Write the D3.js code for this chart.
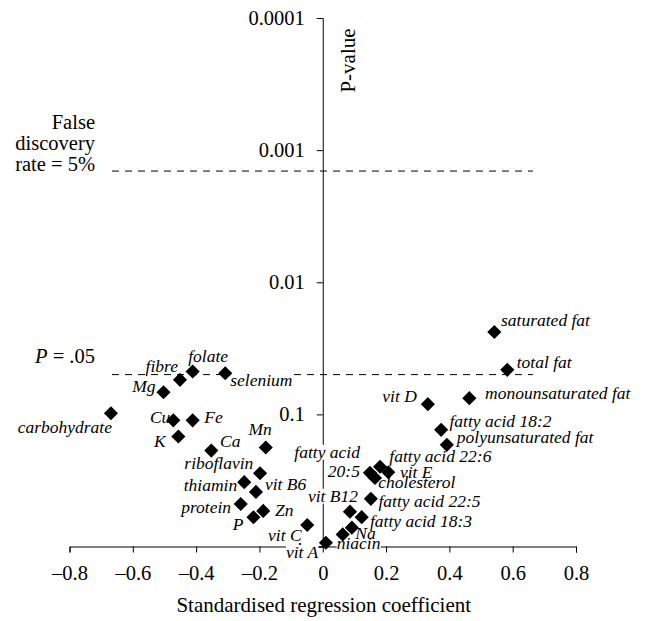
<!DOCTYPE html>
<html><head><meta charset="utf-8">
<script src="https://cdn.jsdelivr.net/npm/d3@7"></script>
</head>
<body style="margin:0;padding:0;background:#fff;"><svg id="chart" width="646" height="621" style="display:block"></svg>
<script>
// ---- data ----
const nutrients = ["carbohydrate","Mg","fibre","folate","selenium","Cu","Fe","K","Ca","Mn",
  "riboflavin","thiamin","vit B6","protein","P","Zn","vit C","vit A","niacin","Na",
  "vit B12","fatty acid 18:3","fatty acid 22:5","fatty acid 20:5","cholesterol","fatty acid 22:6",
  "vit E","polyunsaturated fat","fatty acid 18:2","vit D","monounsaturated fat","total fat","saturated fat"];
const coefficients = [-0.669,-0.503,-0.451,-0.411,-0.308,-0.472,-0.411,-0.456,-0.352,-0.180,
  -0.198,-0.248,-0.211,-0.259,-0.219,-0.188,-0.049,0.010,0.063,0.092,
  0.086,0.123,0.152,0.149,0.165,0.181,
  0.207,0.392,0.374,0.332,0.463,0.583,0.542];
const pValues = [0.098,0.068,0.0548,0.0474,0.0488,0.111,0.111,0.147,0.188,0.178,
  0.279,0.326,0.386,0.477,0.601,0.538,0.687,0.936,0.81,0.72,
  0.545,0.60,0.436,0.277,0.303,0.249,
  0.274,0.170,0.131,0.0837,0.0754,0.046,0.0238];
const xTicks = [-0.8,-0.6,-0.4,-0.2,0,0.2,0.4,0.6,0.8];
const yTicks = [1,0.1,0.01,0.001,0.0001];
const yTickLabels = ["1","0.1","0.01","0.001","0.0001"];
const thresholds = [0.05,0.00144];

// ---- label layout (dx, dy, anchor) ----
const labelLayout = [
  [1,20,"end"],[-8,0,"end"],[-2,-8,"end"],[-4.4,-9.4,"start"],[5,12.7,"start"],
  [-3,3,"end"],[11.6,3,"start"],[-12.6,10.6,"end"],[8.7,-4,"start"],[6,-12.7,"end"],
  [-6.7,-4,"end"],[-7,8.4,"end"],[9,-2,"start"],[-9.7,9.3,"end"],[-10,12.7,"end"],
  [11.7,5,"start"],[-5.6,16,"end"],[-7.7,15.3,"end"],[-6,14.5,"start"],[3.5,11,"start"],
  [8,-10,"end"],[8.3,9.4,"start"],[7.6,7.7,"start"],[-10,-15,"end"],[3.3,10,"start"],[9.3,-5,"start"],
  [11.7,5.7,"start"],[10,-1.7,"start"],[8.3,-3.3,"start"],[-11,-2.6,"end"],[15.7,0.7,"start"],[9.4,-2.3,"start"],[6.7,-6.3,"start"]
];

const FONT = '"Liberation Serif"';
const svg = d3.select("#chart");
const x = d3.scaleLinear().domain([-0.8,0.8]).range([69.5,576]);
const y = d3.scaleLog().domain([1,0.0001]).range([546.5,18]);

const fmtX = v => v === 0 ? "0" : (v < 0 ? "\u2013" + Math.abs(v).toFixed(1) : v.toFixed(1));

function txt(sel, size, italic) {
  sel.style("font-family", FONT).style("font-size", size + "px").attr("fill", "#000");
  if (italic) sel.style("font-style", "italic");
  return sel;
}

// x axis
const gx = svg.append("g").attr("transform",`translate(0,${y(1)})`)
  .call(d3.axisBottom(x).tickValues(xTicks).tickFormat(fmtX).tickSizeOuter(0).tickSize(6).tickPadding(13));
gx.attr("font-family",null).attr("font-size",null);
gx.select(".domain").attr("stroke","#000");
gx.selectAll(".tick line").attr("stroke","#000");
txt(gx.selectAll(".tick text"), 20.5);

// y axis
const gy = svg.append("g").attr("transform",`translate(${x(0)},0)`)
  .call(d3.axisLeft(y).tickValues(yTicks).tickFormat((d,i)=>yTickLabels[i]).tickSizeOuter(0).tickSize(6).tickPadding(12));
gy.attr("font-family",null).attr("font-size",null);
gy.select(".domain").attr("stroke","#000");
gy.selectAll(".tick line").attr("stroke","#000");
txt(gy.selectAll(".tick text"), 20.5);

// threshold lines
svg.selectAll("line.thr").data(thresholds).enter().append("line")
  .attr("x1",112).attr("x2",533)
  .attr("y1",d=>y(d)).attr("y2",d=>y(d))
  .attr("stroke","#000").attr("stroke-width",1).attr("stroke-dasharray","7,6");

// annotations
["False","discovery","rate = 5%"].forEach((t,i)=>{
  txt(svg.append("text").attr("x",95).attr("y",128.5+i*21.3).attr("text-anchor","end"),20.5).text(t);
});
const pt = txt(svg.append("text").attr("x",95).attr("y",363).attr("text-anchor","end"),20.5);
pt.append("tspan").style("font-style","italic").text("P");
pt.append("tspan").text(" = .05");

txt(svg.append("text").attr("transform","translate(355,60.5) rotate(-90)").attr("text-anchor","middle"),21).text("P-value");
txt(svg.append("text").attr("x",x(0)+1).attr("y",612).attr("text-anchor","middle"),21).text("Standardised regression coefficient");

// data
const data = nutrients.map((n,i)=>({name:n,c:coefficients[i],p:pValues[i],lay:labelLayout[i]}));

const bgLayer = svg.append("g");
const ptLayer = svg.append("g");
const txtLayer = svg.append("g");

data.forEach(d=>{
  const px = x(d.c), py = y(d.p);
  const [dx,dy,anchor] = d.lay;
  let lines = [d.name];
  if (d.name === "fatty acid 20:5") lines = ["fatty acid","20:5"];
  lines.forEach((ln,k)=>{
    const ty = lines.length === 2 ? (k===0 ? py+dy : py+3.7) : py+dy;
    const t = txt(txtLayer.append("text").attr("x",px+dx).attr("y",ty).attr("text-anchor",anchor),17.5,true).text(ln);
    const bb = t.node().getBBox();
    bgLayer.append("rect").attr("x",bb.x).attr("y",bb.y+3).attr("width",bb.width).attr("height",bb.height-5).attr("fill","#fff");
  });
});

ptLayer.selectAll("path").data(data).enter().append("path")
  .attr("d",d3.symbol(d3.symbolSquare,100))
  .attr("transform",d=>`translate(${x(d.c)},${y(d.p)}) rotate(45)`)
  .attr("fill","#000");
</script></body></html>
